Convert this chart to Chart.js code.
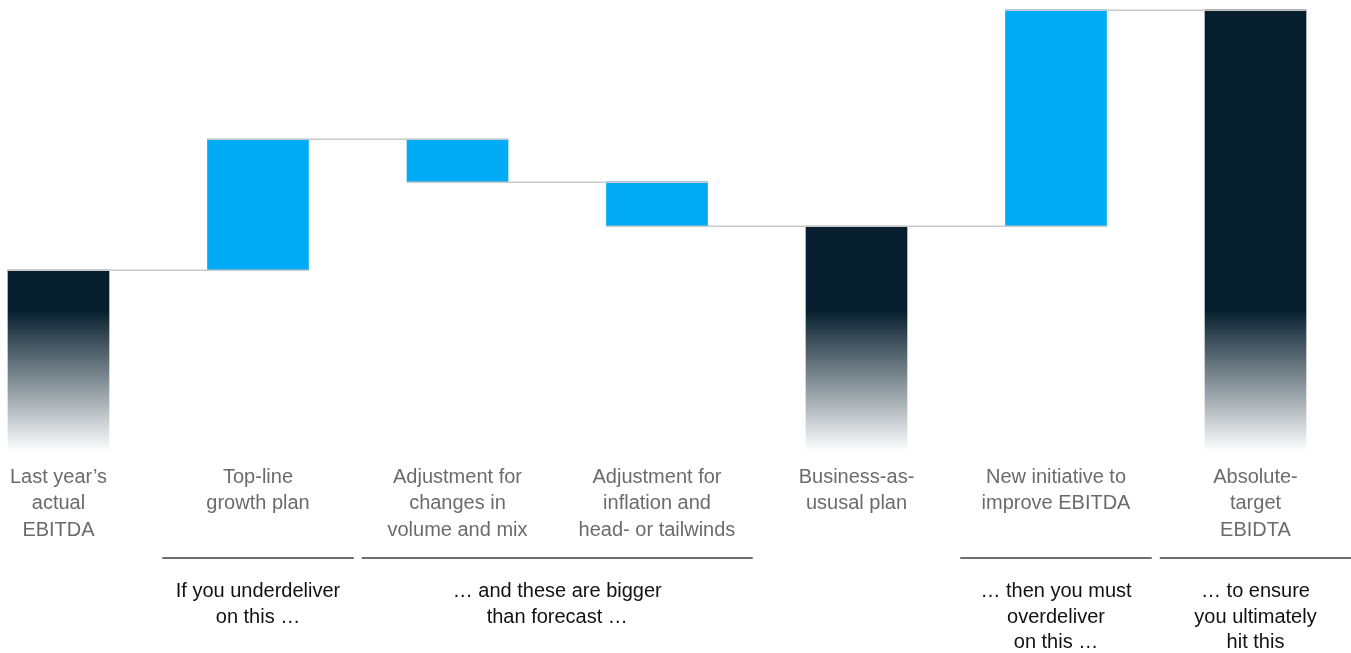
<!DOCTYPE html>
<html>
<head>
<meta charset="utf-8">
<script src="https://cdn.jsdelivr.net/npm/chart.js@4/dist/chart.umd.min.js"></script>
<style>
  html, body { margin: 0; padding: 0; background: #ffffff; }
  #wrap { position: relative; width: 1351px; height: 653px; }
</style>
</head>
<body>
<div id="wrap"><canvas id="c"></canvas></div>
<script>
// ---- data ----
const categories = [
  ["Last year\u2019s", "actual", "EBITDA"],
  ["Top-line", "growth plan"],
  ["Adjustment for", "changes in", "volume and mix"],
  ["Adjustment for", "inflation and", "head- or tailwinds"],
  ["Business-as-", "ususal plan"],
  ["New initiative to", "improve EBITDA"],
  ["Absolute-", "target", "EBIDTA"]
];
const barKinds = ["total", "delta", "delta", "delta", "total", "delta", "total"];
const barValues = [100, 72, -23.5, -24.5, 124, 119, 243];
const noteSpans = [[1, 1], [2, 3], [5, 5], [6, 6]];
const noteTexts = [
  ["If you underdeliver", "on this \u2026"],
  ["\u2026 and these are bigger", "than forecast \u2026"],
  ["\u2026 then you must", "overdeliver", "on this \u2026"],
  ["\u2026 to ensure", "you ultimately", "hit this"]
];

// ---- build floating ranges ----
const ranges = [];
const levels = [];
let running = 0;
barValues.forEach((v, i) => {
  if (barKinds[i] === "total") {
    ranges.push([0, v]);
    running = v;
  } else {
    ranges.push([running, running + v]);
    running = running + v;
  }
  levels.push(running);
});

const BLUE = "#00aaf4";
const DARK = "#061e2d";
const BAR_W = 101;
const FONT = '"Liberation Sans", Arial, sans-serif';

function totalGradient(chart) {
  const y = chart.scales.y;
  const bottom = y.getPixelForValue(0);
  const g = chart.ctx.createLinearGradient(0, bottom - 142, 0, bottom);
  g.addColorStop(0, DARK);
  g.addColorStop(1, "rgba(255,255,255,1)");
  return g;
}

const connectorPlugin = {
  id: "connectors",
  afterDatasetsDraw(chart) {
    const ctx = chart.ctx, x = chart.scales.x, y = chart.scales.y;
    ctx.save();
    ctx.strokeStyle = "#c9c9c9";
    ctx.lineWidth = 1.5;
    for (let i = 0; i < levels.length - 1; i++) {
      const py = Math.round(y.getPixelForValue(levels[i])) + 0.25;
      const x0 = x.getPixelForValue(i) - BAR_W / 2;
      const x1 = x.getPixelForValue(i + 1) + BAR_W / 2;
      ctx.beginPath();
      ctx.moveTo(x0, py);
      ctx.lineTo(x1, py);
      ctx.stroke();
    }
    ctx.restore();
  }
};

const notesPlugin = {
  id: "notes",
  afterDraw(chart) {
    const ctx = chart.ctx, x = chart.scales.x;
    const base = chart.chartArea.bottom;
    ctx.save();
    noteSpans.forEach((span, k) => {
      const left = x.getPixelForValue(span[0] - 0.5) + 4;
      const right = Math.min(x.getPixelForValue(span[1] + 0.5) - 4, chart.width);
      ctx.strokeStyle = "#6e6e6e";
      ctx.lineWidth = 1.8;
      ctx.beginPath();
      ctx.moveTo(left, base + 106);
      ctx.lineTo(right, base + 106);
      ctx.stroke();
      const cx = (x.getPixelForValue(span[0]) + x.getPixelForValue(span[1])) / 2;
      ctx.fillStyle = "#111111";
      ctx.font = "20px " + FONT;
      ctx.textAlign = "center";
      ctx.textBaseline = "alphabetic";
      noteTexts[k].forEach((line, j) => {
        ctx.fillText(line, cx, base + 145 + j * 25.5);
      });
    });
    ctx.restore();
  }
};

new Chart(document.getElementById("c"), {
  type: "bar",
  data: {
    datasets: [{
      data: ranges.map((r, i) => ({ x: i, y: r })),
      backgroundColor: (ctx) => {
        const i = ctx.dataIndex;
        if (barKinds[i] === "total") {
          if (!ctx.chart.chartArea) return DARK;
          return totalGradient(ctx.chart);
        }
        return BLUE;
      },
      borderWidth: 0,
      borderSkipped: false,
      barThickness: BAR_W
    }]
  },
  options: {
    responsive: true,
    maintainAspectRatio: false,
    animation: false,
    layout: { padding: 0 },
    plugins: { legend: { display: false }, tooltip: { enabled: false } },
    scales: {
      x: {
        type: "linear",
        offset: false,
        bounds: "data",
        min: -0.2932,
        max: 6.4787,
        grid: { display: false, drawTicks: false, offset: false },
        border: { display: false },
        afterBuildTicks: (s) => { s.ticks = categories.map((_, i) => ({ value: i })); },
        afterFit: (s) => { s.height = 201; s.paddingLeft = 0; s.paddingRight = 0; },
        ticks: {
          autoSkip: false,
          maxRotation: 0,
          padding: 12,
          color: "#6b6b6b",
          font: { family: FONT, size: 20, lineHeight: 1.325 },
          callback: (v) => {
            const r = Math.round(v);
            return (Math.abs(v - r) < 1e-6 && categories[r]) ? categories[r] : "";
          }
        }
      },
      y: {
        display: false,
        min: 0,
        max: 248.35
      }
    }
  },
  plugins: [connectorPlugin, notesPlugin]
});
</script>
</body>
</html>
